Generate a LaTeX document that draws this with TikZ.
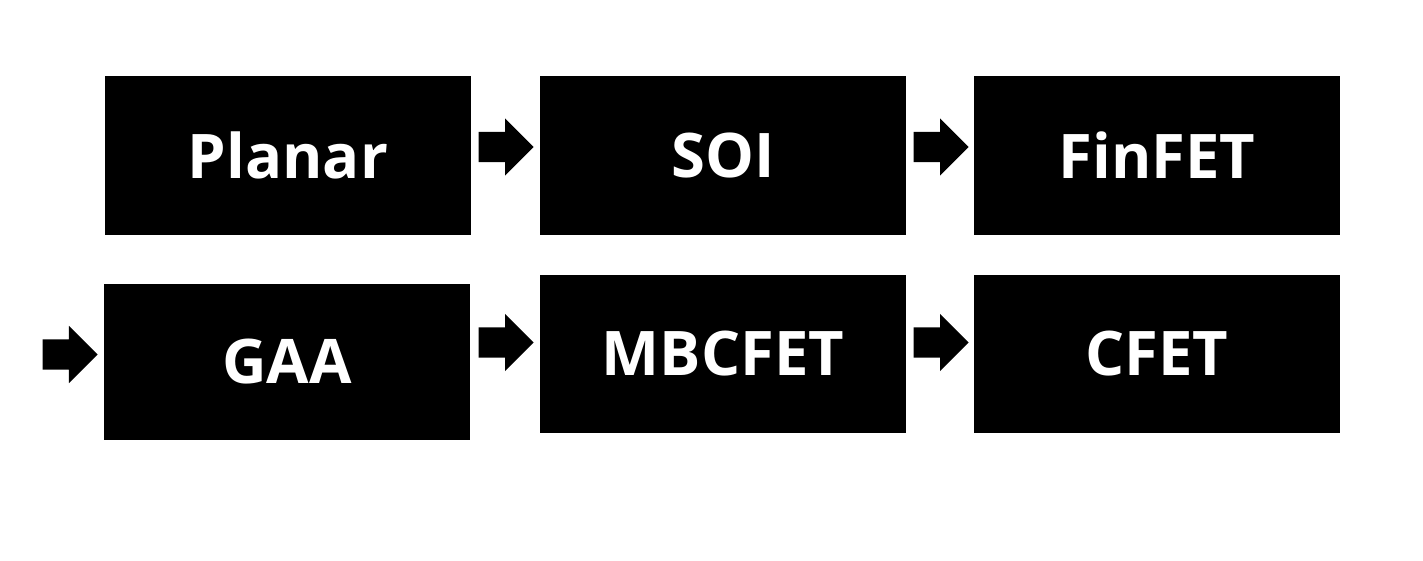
\documentclass[tikz,border=0pt]{standalone}
\usepackage{fontspec}
\setmainfont{Open Sans}
\usetikzlibrary{shapes.arrows,positioning}

\tikzset{
  stage/.style={rectangle, fill=black, text=white, inner sep=0pt,
    minimum width=3.66cm, minimum height=1.59cm,
    font=\fontsize{17.5}{19}\selectfont\bfseries},
  blockarrow/.style={single arrow, fill=black, inner xsep=0pt, inner ysep=0.145cm,
    minimum height=0.55cm, anchor=tail,
    single arrow head extend=0.135cm, single arrow tip angle=90}
}

\begin{document}
\begin{tikzpicture}
\useasboundingbox (0,0) rectangle (14.23,5.61);
% First row
\node[stage] (planar) at (2.88,4.055) {\raisebox{-1pt}{Planar}};
\node[stage] (soi) at (7.23,4.055) {\raisebox{-1pt}{SOI}};
\node[stage] (finfet) at (11.57,4.055) {\raisebox{-1pt}{FinFET}};
% Second row
\node[stage, minimum height=1.56cm] (gaa) at (2.87,1.99) {GAA};
\node[stage, minimum height=1.58cm] (mbcfet) at (7.23,2.07) {MBCFET};
\node[stage, minimum height=1.58cm] (cfet) at (11.57,2.07) {CFET};
% Arrows
\node[blockarrow] (a1) at (4.78,4.14) {};
\node[blockarrow] (a2) at (9.13,4.14) {};
\node[blockarrow] (a3) at (0.42,2.065) {};
\node[blockarrow] (a4) at (4.78,2.185) {};
\node[blockarrow] (a5) at (9.13,2.185) {};
\end{tikzpicture}
\end{document}
